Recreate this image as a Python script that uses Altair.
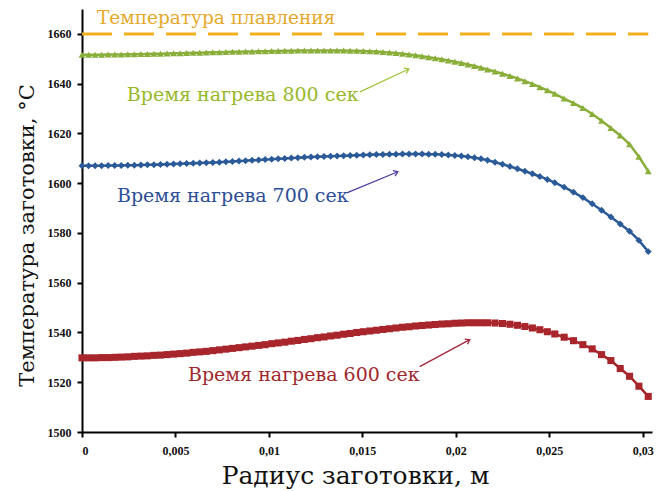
import altair as alt
import pandas as pd

# Radial coordinate of the billet, m
radius = [
    0.0, 0.00035, 0.0007, 0.00105, 0.0014, 0.00175, 0.0021, 0.00245, 0.0028, 0.00315,
    0.0035, 0.00385, 0.0042, 0.00455, 0.0049, 0.00525, 0.0056, 0.00595, 0.0063, 0.00665,
    0.007, 0.00735, 0.0077, 0.00805, 0.0084, 0.00875, 0.0091, 0.00945, 0.0098, 0.01015,
    0.0105, 0.01085, 0.0112, 0.01155, 0.0119, 0.01225, 0.0126, 0.01295, 0.0133, 0.01365,
    0.014, 0.01435, 0.0147, 0.01505, 0.0154, 0.01575, 0.0161, 0.01645, 0.0168, 0.01715,
    0.0175, 0.01785, 0.0182, 0.01855, 0.0189, 0.01925, 0.0196, 0.01995, 0.0203, 0.02065,
    0.021, 0.02135, 0.0217, 0.0221, 0.0225, 0.0229, 0.0233, 0.0237, 0.0241, 0.0245,
    0.0249, 0.0253, 0.0258, 0.0263, 0.0268, 0.0273, 0.0278, 0.0283, 0.0288, 0.0293,
    0.0298, 0.0303,
]

# Billet temperature, °C, after 600 s of heating
t600 = [
    1529.8, 1529.8, 1529.8, 1529.9, 1529.9, 1530.0, 1530.1, 1530.2, 1530.4, 1530.5,
    1530.6, 1530.8, 1530.9, 1531.1, 1531.3, 1531.5, 1531.7, 1532.0, 1532.2, 1532.4,
    1532.7, 1533.0, 1533.3, 1533.6, 1533.9, 1534.2, 1534.5, 1534.8, 1535.1, 1535.5,
    1535.8, 1536.1, 1536.5, 1536.8, 1537.2, 1537.5, 1537.9, 1538.2, 1538.6, 1538.9,
    1539.3, 1539.6, 1540.0, 1540.3, 1540.6, 1540.9, 1541.2, 1541.5, 1541.8, 1542.1,
    1542.3, 1542.6, 1542.8, 1543.0, 1543.2, 1543.4, 1543.5, 1543.7, 1543.8, 1543.9,
    1543.9, 1543.9, 1543.9, 1543.8, 1543.6, 1543.3, 1542.9, 1542.4, 1541.8, 1541.1,
    1540.3, 1539.4, 1538.1, 1536.7, 1535.1, 1533.4, 1531.1, 1528.7, 1525.5, 1522.4,
    1518.4, 1514.3,
]

# ... after 700 s
t700 = [
    1607.0, 1607.0, 1607.0, 1607.0, 1607.1, 1607.1, 1607.1, 1607.2, 1607.2, 1607.3,
    1607.4, 1607.4, 1607.5, 1607.6, 1607.7, 1607.8, 1607.9, 1608.0, 1608.1, 1608.2,
    1608.3, 1608.4, 1608.6, 1608.7, 1608.9, 1609.0, 1609.2, 1609.3, 1609.5, 1609.6,
    1609.8, 1609.9, 1610.1, 1610.2, 1610.4, 1610.5, 1610.6, 1610.7, 1610.8, 1610.9,
    1611.0, 1611.1, 1611.2, 1611.3, 1611.4, 1611.5, 1611.5, 1611.6, 1611.6, 1611.7,
    1611.7, 1611.7, 1611.7, 1611.6, 1611.6, 1611.5, 1611.3, 1611.1, 1610.9, 1610.6,
    1610.2, 1609.8, 1609.2, 1608.4, 1607.6, 1606.7, 1605.8, 1604.8, 1603.8, 1602.7,
    1601.5, 1600.2, 1598.4, 1596.4, 1594.2, 1591.7, 1589.1, 1586.4, 1583.6, 1580.7,
    1577.0, 1572.5,
]

# ... after 800 s
t800 = [
    1651.6, 1651.6, 1651.6, 1651.6, 1651.7, 1651.7, 1651.7, 1651.8, 1651.8, 1651.9,
    1651.9, 1652.0, 1652.0, 1652.1, 1652.2, 1652.2, 1652.3, 1652.4, 1652.4, 1652.5,
    1652.6, 1652.6, 1652.7, 1652.8, 1652.8, 1652.9, 1652.9, 1653.0, 1653.0, 1653.1,
    1653.1, 1653.2, 1653.2, 1653.3, 1653.3, 1653.3, 1653.3, 1653.3, 1653.3, 1653.3,
    1653.3, 1653.2, 1653.2, 1653.1, 1653.0, 1652.9, 1652.7, 1652.5, 1652.3, 1652.0,
    1651.7, 1651.4, 1651.0, 1650.6, 1650.2, 1649.8, 1649.3, 1648.8, 1648.3, 1647.7,
    1647.1, 1646.4, 1645.7, 1644.9, 1644.0, 1643.1, 1642.1, 1641.0, 1639.9, 1638.6,
    1637.3, 1635.9, 1634.0, 1632.2, 1630.2, 1627.8, 1625.1, 1622.2, 1619.2, 1615.6,
    1610.6, 1604.8,
]

melt_temp = 1660
melt_span = [0.0, 0.0303]

x_ticks = [0, 0.005, 0.01, 0.015, 0.02, 0.025, 0.03]
y_ticks = [1500, 1520, 1540, 1560, 1580, 1600, 1620, 1640, 1660]

# Callout texts, anchor (left edge, vertical middle) in data units
label_text = ["Температура плавления", "Время нагрева 800 сек",
              "Время нагрева 700 сек", "Время нагрева 600 сек"]
label_r = [0.0008, 0.0024, 0.00187, 0.00567]
label_t = [1666.4, 1635.5, 1594.9, 1523.0]
label_color = ["#E5A92A", "#97B82A", "#2C4E96", "#A0282D"]
label_size = [18.5, 19, 19, 19]

# Callout arrows: tail -> head, in data units
arrow_r = [0.01487, 0.01417, 0.01807]
arrow_t = [1636.7, 1596.1, 1526.3]
arrow_r2 = [0.01749, 0.0169, 0.02075]
arrow_t2 = [1645.9, 1604.6, 1537.1]
arrow_angle = [335, 337.6, 331.6]
arrow_color = ["#A3C23A", "#4A3E9E", "#A0283D"]

NUM_FONT = "Liberation Serif"
TEXT_FONT = "DejaVu Serif"

x_scale = alt.Scale(domain=[0, 0.0305], nice=False, zero=False)
y_scale = alt.Scale(domain=[1500, 1670], nice=False, zero=False)

x_axis = alt.Axis(
    values=x_ticks,
    labelExpr="replace(format(datum.value, '~g'), '.', ',')",
    title="Радиус заготовки, м",
    titleFont=TEXT_FONT, titleFontSize=25, titleFontWeight="normal", titleColor="#111",
    titleBaseline="alphabetic", titleY=51, titleX=273,
    labelFont=NUM_FONT, labelFontSize=12, labelColor="#111", labelPadding=8,
    labelFontWeight="bold",
)
y_axis = alt.Axis(
    values=y_ticks,
    format="d",
    title="Температура заготовки, °С",
    titleFont=TEXT_FONT, titleFontSize=21, titleFontWeight="normal", titleColor="#111",
    titleBaseline="alphabetic", titleX=-49, titleY=226, titleAngle=270,
    labelFont=NUM_FONT, labelFontSize=12, labelColor="#111", labelPadding=6,
    labelFontWeight="bold",
)


def enc(xf, yf):
    return dict(
        x=alt.X(xf, type="quantitative", scale=x_scale, axis=x_axis),
        y=alt.Y(yf, type="quantitative", scale=y_scale, axis=y_axis),
    )


def series_layer(values, color, shape, size):
    d = pd.DataFrame({"r": radius, "t": values})
    base = alt.Chart(d).encode(**enc("r", "t"))
    line = base.mark_line(color=color, strokeWidth=2.5)
    pts = base.mark_point(shape=shape, filled=True, color=color, size=size, opacity=1)
    return line + pts


melt_df = pd.DataFrame({"r": [melt_span[0]], "r2": [melt_span[1]], "t": [melt_temp]})
melt = alt.Chart(melt_df).mark_rule(
    color="#F2B01E", strokeWidth=3, strokeDash=[30, 12]
).encode(**enc("r", "t"), x2="r2")

red = series_layer(t600, "#A8262B", "square", 50)
blue = series_layer(t700, "#2B5A98", "diamond", 48)
green = series_layer(t800, "#8AAE3A", "triangle-up", 48)

lab_df = pd.DataFrame({"text": label_text, "r": label_r, "t": label_t,
                       "color": label_color, "size": label_size})
labels = alt.Chart(lab_df).mark_text(
    font=TEXT_FONT, align="left", baseline="middle"
).encode(
    **enc("r", "t"),
    text="text:N",
    color=alt.Color("color:N", scale=None),
    size=alt.Size("size:Q", scale=None),
)

arr_df = pd.DataFrame({"r": arrow_r, "t": arrow_t, "r2": arrow_r2, "t2": arrow_t2,
                       "ang": arrow_angle, "color": arrow_color})
shafts = alt.Chart(arr_df).mark_rule(strokeWidth=1.3).encode(
    **enc("r", "t"), x2="r2", y2="t2",
    color=alt.Color("color:N", scale=None),
)
heads = alt.Chart(arr_df).mark_point(
    shape="M -1 -0.7 L 0 0 L -1 0.7", filled=False, strokeWidth=1.3, size=70, opacity=1
).encode(
    **enc("r2", "t2"),
    angle=alt.Angle("ang:Q", scale=None),
    color=alt.Color("color:N", scale=None),
)

chart = alt.layer(melt, red, blue, green, shafts, heads, labels).properties(
    width=570,
    height=423,
    autosize=alt.AutoSizeParams(type="none"),
    padding={"left": 82, "top": 9, "right": 8, "bottom": 59},
    background="white",
).configure_view(stroke=None).configure_axis(
    grid=False,
    domainColor="black",
    domainWidth=2,
    tickColor="black",
    tickWidth=2,
    tickSize=5,
)

chart.save("out.html", embed_options={"renderer": "svg", "actions": False})
